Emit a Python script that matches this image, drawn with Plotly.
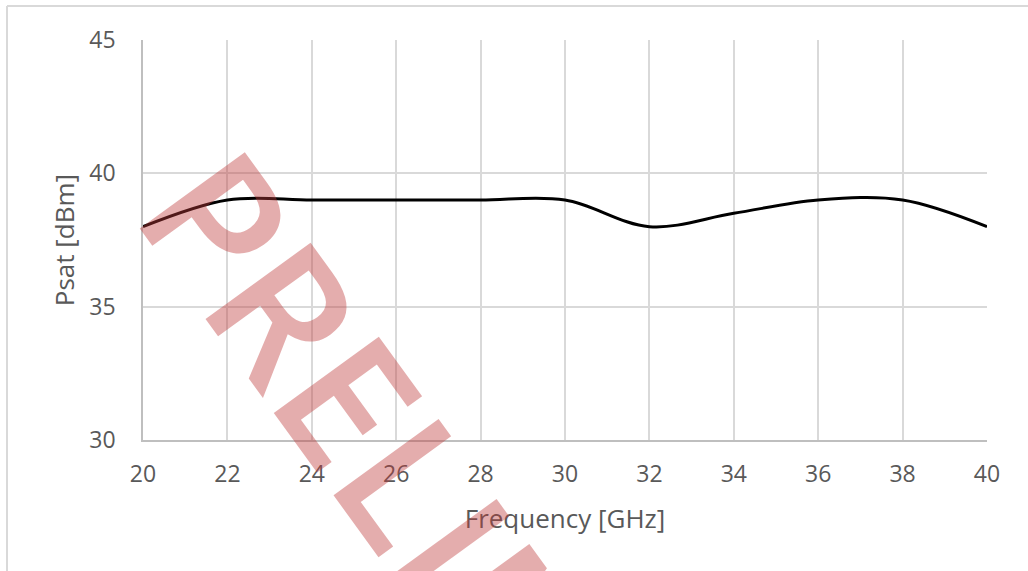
import plotly.graph_objects as go

# Data
freq_ghz = [20, 22, 24, 26, 28, 30, 32, 34, 36, 38, 40]
psat_dbm = [38.0, 39.0, 39.0, 39.0, 39.0, 39.0, 38.0, 38.5, 39.0, 39.0, 38.0]
x_ticks = [20, 22, 24, 26, 28, 30, 32, 34, 36, 38, 40]
y_ticks = [30, 35, 40, 45]

W, H = 1028, 571
ML, MR, MT, MB = 143, 41, 40, 131
PW, PH = W - ML - MR, H - MT - MB

def px(x):
    return (x - ML) / PW

def py(y):
    return (H - MB - y) / PH

font_family = "Open Sans, Liberation Sans, sans-serif"
text_grey = "#595959"
grid_grey = "#d9d9d9"

fig = go.Figure()
fig.add_trace(go.Scatter(
    x=freq_ghz, y=psat_dbm, mode="lines",
    line=dict(color="#000000", width=3, shape="spline", smoothing=1.0),
    showlegend=False, hoverinfo="skip",
))

fig.update_layout(
    width=W, height=H,
    margin=dict(l=ML, r=MR, t=MT, b=MB, autoexpand=False),
    paper_bgcolor="white", plot_bgcolor="white",
    font=dict(family=font_family, color=text_grey, size=23),
    xaxis=dict(
        range=[20, 40], tickmode="array", tickvals=x_ticks,
        showgrid=True, gridcolor=grid_grey, gridwidth=1.5,
        showline=True, linecolor="#bfbfbf", linewidth=1.5,
        zeroline=False, ticks="", ticklabelstandoff=13,
        tickfont=dict(size=23, color=text_grey),
        title=dict(text="Frequency [GHz]", font=dict(size=26, color=text_grey), standoff=21),
    ),
    yaxis=dict(
        range=[30, 45], tickmode="array", tickvals=y_ticks,
        showgrid=True, gridcolor=grid_grey, gridwidth=1.5,
        showline=True, linecolor="#bfbfbf", linewidth=1.5,
        zeroline=False, ticks="", ticklabelstandoff=21,
        tickfont=dict(size=23, color=text_grey),
        title=dict(text="Psat [dBm]", font=dict(size=26, color=text_grey), standoff=7),
    ),
)

# outer chart-area border (top and left edges visible)
fig.add_shape(type="line", xref="paper", yref="paper",
              x0=px(7), y0=py(6), x1=px(1040), y1=py(6),
              line=dict(color=grid_grey, width=2), layer="below")
fig.add_shape(type="line", xref="paper", yref="paper",
              x0=px(7), y0=py(6), x1=px(7), y1=py(600),
              line=dict(color=grid_grey, width=2), layer="below")

# Watermark
fig.add_annotation(
    text="PRELIMINARY", xref="paper", yref="paper",
    x=px(538), y=py(656), xanchor="center", yanchor="middle",
    textangle=54, showarrow=False,
    font=dict(family="Open Sans, sans-serif", size=182, color="rgba(190,60,60,0.42)", weight=600),
)

fig.write_html("out.html", config={"displayModeBar": False},
               post_script="document.body.style.margin='0';")
